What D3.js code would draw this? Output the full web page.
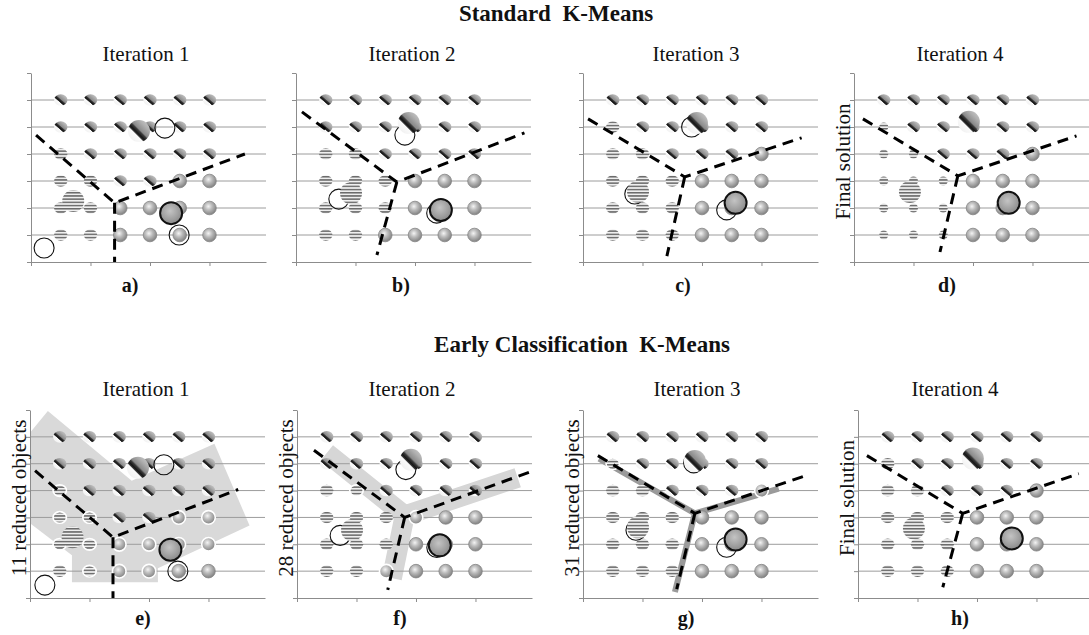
<!DOCTYPE html>
<html>
<head>
<meta charset="utf-8">
<script src="https://cdn.jsdelivr.net/npm/d3@7"></script>
<style>
  body { margin: 0; background: #fff; }
  svg { display: block; }
  text { font-family: "Liberation Serif", "Times New Roman", serif; fill: #111; white-space: pre; }
</style>
</head>
<body>
<svg id="chart" width="1089" height="635"></svg>
<script>
const sectionTitles = ["Standard  K-Means", "Early Classification  K-Means"];
const iterationLabels = ["Iteration 1", "Iteration 2", "Iteration 3", "Iteration 4"];
const panelLetters = ["a)", "b)", "c)", "d)", "e)", "f)", "g)", "h)"];
const sideLabels = ["", "", "", "Final solution", "11 reduced objects", "28 reduced objects", "31 reduced objects", "Final solution"];
const gridX = [1, 2, 3, 4, 5, 6];
const gridY = [6, 5, 4, 3, 2, 1];
const yTicks = [0, 1, 2, 3, 4, 5, 6, 7];
const xTicks = [0, 2, 4, 6];

// cluster of each object, rows y=6 .. y=1 (D = diagonal, S = striped, G = gray)
const membersIter1 = ["DDDDDD", "DDDDDD", "SDDDDD", "SSDDGG", "SSGGGG", "SSGGGG"];
const membersIter2 = ["DDDDDD", "DDDDDD", "SSDDDD", "SSSGGG", "SSSGGG", "SSGGGG"];
const membersIter3 = ["DDDDDD", "SDDDDD", "SSDDDG", "SSSGGG", "SSSGGG", "SSSGGG"];
const membersIter4 = ["DDDDDD", "SDDDDD", "SSDDDG", "SSSGGG", "SSSGGG", "SSSGGG"];

// new centroids [cluster, x, y] and previous centroids [x, y]
const centroidsA = [["D", 3.63, 4.85], ["S", 1.42, 2.26], ["G", 4.71, 1.81]];
const oldCentroidsA = [[4.5, 4.96], [0.44, 0.52], [4.98, 1.0]];
const centroidsB = [["D", 3.79, 5.15], ["S", 1.85, 2.55], ["G", 4.87, 1.93]];
const oldCentroidsB = [[3.66, 4.7], [1.44, 2.33], [4.73, 1.81]];
const centroidsC = [["D", 3.83, 5.15], ["S", 1.85, 2.6], ["G", 5.13, 2.19]];
const oldCentroidsC = [[3.65, 5.0], [1.74, 2.52], [4.83, 1.93]];
const centroidsD = [["D", 3.86, 5.19], ["S", 1.88, 2.59], ["G", 5.2, 2.19]];
const centroidsE = [["D", 3.63, 4.85], ["S", 1.43, 2.26], ["G", 4.72, 1.8]];
const oldCentroidsE = [[4.5, 4.96], [0.5, 0.48], [4.97, 1.0]];
const centroidsF = [["D", 3.83, 5.15], ["S", 1.85, 2.52], ["G", 4.8, 1.96]];
const oldCentroidsF = [[3.66, 4.78], [1.45, 2.33], [4.7, 1.88]];
const centroidsG = [["D", 3.76, 5.1], ["S", 1.85, 2.63], ["G", 5.13, 2.18]];
const oldCentroidsG = [[3.72, 5.03], [1.78, 2.52], [4.83, 1.89]];
const centroidsH = [["D", 3.86, 5.19], ["S", 1.88, 2.59], ["G", 5.17, 2.22]];

// cluster borders: [junction, left end, right end, lower end]
const borderA = [[2.81, 2.19], [0.17, 4.7], [7.19, 4.0], [2.81, 0]];
const borderB = [[3.39, 2.96], [0.2, 5.56], [7.68, 4.78], [2.72, 0.26]];
const borderC = [[3.42, 3.15], [0.17, 5.3], [7.35, 4.6], [2.82, 0.22]];
const borderD = [[3.49, 3.19], [0.3, 5.3], [7.48, 4.67], [2.89, 0.37]];
const borderE = [[2.79, 2.26], [0.17, 4.74], [7.0, 4.04], [2.79, 0]];
const borderF = [[3.62, 3.0], [0.57, 5.5], [7.95, 4.74], [3.05, 0.3]];
const borderG = [[3.76, 3.15], [0.5, 5.3], [7.6, 4.6], [3.15, 0.33]];
const borderH = [[3.52, 3.15], [0.3, 5.3], [7.42, 4.63], [2.85, 0.4]];

// active (non reduced) zones
const zoneE = [[0, 6.15], [0.6, 6.96], [3.42, 4.37], [6.2, 5.74], [7.38, 2.7], [4.3, 1.11],
               [4.3, 0.59], [1.41, 0.59], [1.41, 1.59], [0, 2.78]];
const bandF = [[3.62, 3.07], [1.0, 5.4], [7.42, 4.48], [3.19, 0.74]];
const bandG = [[3.76, 3.15], [0.54, 5.19], [6.58, 4.07], [3.09, 0.22]];

// layout
const panelLeft = [31, 296, 583, 854, 30, 297, 583, 858];
const rowTop = [73, 410];
const rowBottom = [262, 598];
const plotWidth = 235;
const iterationX = [146, 412, 696, 960, 146, 412, 697, 955];
const letterX = [130, 401, 683, 947, 143, 400, 686, 960];

const panels = [
  { members: membersIter1, centroids: centroidsA, old: oldCentroidsA, border: borderA },
  { members: membersIter2, centroids: centroidsB, old: oldCentroidsB, border: borderB },
  { members: membersIter3, centroids: centroidsC, old: oldCentroidsC, border: borderC },
  { members: membersIter4, centroids: centroidsD, old: [], border: borderD, small: true },
  { members: membersIter1, centroids: centroidsE, old: oldCentroidsE, border: borderE, zone: zoneE },
  { members: membersIter2, centroids: centroidsF, old: oldCentroidsF, border: borderF, band: bandF, bandWidth: 20, bandColor: "#d6d6d6" },
  { members: membersIter3, centroids: centroidsG, old: oldCentroidsG, border: borderG, band: bandG, bandWidth: 6, bandColor: "#9a9a9a" },
  { members: membersIter4, centroids: centroidsH, old: [], border: borderH }
];

const svg = d3.select("#chart");
const defs = svg.append("defs");

const diag = defs.append("linearGradient").attr("id", "diag")
  .attr("x1", 1).attr("y1", 0).attr("x2", 0).attr("y2", 1);
[[0, "#d2d2d2"], [0.25, "#b0b0b0"], [0.45, "#8a8a8a"], [0.5, "#3a3a3a"], [0.58, "#141414"], [0.62, "#3c3c3c"], [0.65, "#fafafa"], [1, "#ececec"]]
  .forEach(([o, c]) => diag.append("stop").attr("offset", o).attr("stop-color", c));

const stripes = defs.append("pattern").attr("id", "stripes")
  .attr("patternUnits", "userSpaceOnUse").attr("width", 4).attr("height", 3.2);
stripes.append("rect").attr("width", 4).attr("height", 3.2).attr("fill", "#efefef");
stripes.append("rect").attr("width", 4).attr("height", 1.5).attr("fill", "#6a6a6a");

const ball = defs.append("radialGradient").attr("id", "ball")
  .attr("cx", "42%").attr("cy", "38%").attr("r", "60%");
[[0, "#f4f4f4"], [0.45, "#bcbcbc"], [1, "#858585"]]
  .forEach(([o, c]) => ball.append("stop").attr("offset", o).attr("stop-color", c));

const ballBig = defs.append("radialGradient").attr("id", "ballBig")
  .attr("cx", "45%").attr("cy", "40%").attr("r", "60%");
[[0, "#c4c4c4"], [0.6, "#a2a2a2"], [1, "#8a8a8a"]]
  .forEach(([o, c]) => ballBig.append("stop").attr("offset", o).attr("stop-color", c));

const fillOf = { D: "url(#diag)", S: "url(#stripes)", G: "url(#ball)" };

// section titles
svg.append("text").attr("x", 556).attr("y", 21).attr("text-anchor", "middle")
  .attr("font-size", 23).attr("font-weight", "bold").text(sectionTitles[0]);
svg.append("text").attr("x", 582).attr("y", 352).attr("text-anchor", "middle")
  .attr("font-size", 23).attr("font-weight", "bold").text(sectionTitles[1]);

function distToSegment(p, a, b) {
  const dx = b[0] - a[0], dy = b[1] - a[1];
  const t = Math.max(0, Math.min(1, ((p[0] - a[0]) * dx + (p[1] - a[1]) * dy) / (dx * dx + dy * dy)));
  return Math.hypot(p[0] - a[0] - t * dx, p[1] - a[1] - t * dy);
}

panels.forEach((p, i) => {
  const row = i < 4 ? 0 : 1;
  const x = d3.scaleLinear().domain([0, 7.9]).range([panelLeft[i], panelLeft[i] + plotWidth]);
  const y = d3.scaleLinear().domain([0, 7]).range([rowBottom[row], rowTop[row]]);
  const g = svg.append("g");
  const px = d => [x(d[0]), y(d[1])];

  // active zone / bands
  let zonePx = null, bandPx = null;
  if (p.zone) {
    zonePx = p.zone.map(px);
    g.append("path").attr("d", d3.line()(zonePx) + "Z").attr("fill", "#d9d9d9");
  }
  if (p.band) {
    bandPx = p.band.map(px);
    const [j, l, r, dn] = bandPx;
    g.append("path")
      .attr("d", `M${l}L${j}L${r}M${j}L${dn}`)
      .attr("fill", "none").attr("stroke", p.bandColor)
      .attr("stroke-width", p.bandWidth).attr("stroke-linejoin", "round");
  }

  // gridlines
  g.selectAll("line.grid").data(gridY).join("line").attr("class", "grid")
    .attr("x1", x(0)).attr("x2", x(7.9))
    .attr("y1", d => y(d)).attr("y2", d => y(d))
    .attr("stroke", "#9c9c9c").attr("stroke-width", 1);

  // axes
  const ax = g.append("g").attr("transform", `translate(${x(0)},0)`)
    .call(d3.axisLeft(y).tickValues(yTicks).tickSize(4).tickSizeOuter(0).tickFormat(""));
  const bx = g.append("g").attr("transform", `translate(0,${y(0)})`)
    .call(d3.axisBottom(x).tickValues(xTicks).tickSize(4).tickSizeOuter(0).tickFormat(""));
  [ax, bx].forEach(a => a.selectAll("path,line").attr("stroke", "#8c8c8c"));

  // objects
  const objects = [];
  gridY.forEach((yy, r) => gridX.forEach((xx, c) => objects.push({ x: xx, y: yy, k: p.members[r][c] })));
  objects.forEach(o => {
    const q = [x(o.x), y(o.y)];
    let ring = false;
    if (zonePx && o.k !== "D") ring = d3.polygonContains(zonePx, q);
    if (bandPx && o.k !== "D") ring = [1, 2, 3].some(k => distToSegment(q, bandPx[0], bandPx[k]) < p.bandWidth / 2 + 2);
    o.ring = ring;
  });

  const rx = d => (p.small && d.k === "S") ? 4.5 : (d.k === "G" ? 6.8 : 6.7);
  const ry = d => (p.small && d.k === "S") ? 4.5 : (d.k === "G" ? 6.8 : 5.8);
  g.selectAll("ellipse.obj").data(objects).join("ellipse").attr("class", "obj")
    .attr("cx", d => x(d.x)).attr("cy", d => y(d.y))
    .attr("rx", rx).attr("ry", ry)
    .attr("fill", d => fillOf[d.k])
    .attr("stroke", d => d.ring ? "#fff" : (d.k === "G" ? "#858585" : "none"))
    .attr("stroke-width", d => d.ring ? 1.6 : 0.8);

  // previous centroids
  g.selectAll("circle.old").data(p.old).join("circle").attr("class", "old")
    .attr("cx", d => x(d[0])).attr("cy", d => y(d[1])).attr("r", 10)
    .attr("fill", "none").attr("stroke", "#111").attr("stroke-width", 1.1);

  // new centroids
  g.selectAll("circle.cent").data(p.centroids).join("circle").attr("class", "cent")
    .attr("cx", d => x(d[1])).attr("cy", d => y(d[2])).attr("r", 11)
    .attr("fill", d => d[0] === "G" ? "url(#ballBig)" : fillOf[d[0]])
    .attr("stroke", d => d[0] === "G" ? "#111" : "none")
    .attr("stroke-width", 2);

  // borders between clusters
  const [j, l, r, dn] = p.border.map(px);
  g.append("path")
    .attr("d", `M${l}L${j}L${r}M${j}L${dn}`)
    .attr("fill", "none").attr("stroke", "#000")
    .attr("stroke-width", 3).attr("stroke-dasharray", "11,7");

  // texts
  g.append("text").attr("x", iterationX[i]).attr("y", row === 0 ? 61 : 396)
    .attr("text-anchor", "middle").attr("font-size", 21).text(iterationLabels[i % 4]);
  g.append("text").attr("x", letterX[i]).attr("y", row === 0 ? 292 : 625)
    .attr("text-anchor", "middle").attr("font-size", 20).attr("font-weight", "bold").text(panelLetters[i]);
  if (sideLabels[i]) {
    const cx = panelLeft[i] - 11;
    const cy = (rowTop[row] + rowBottom[row]) / 2 - 6;
    g.append("text")
      .attr("transform", `translate(${cx},${cy}) rotate(-90)`)
      .attr("dy", "0.35em")
      .attr("text-anchor", "middle").attr("font-size", 21).text(sideLabels[i]);
  }
});
</script>
</body>
</html>
